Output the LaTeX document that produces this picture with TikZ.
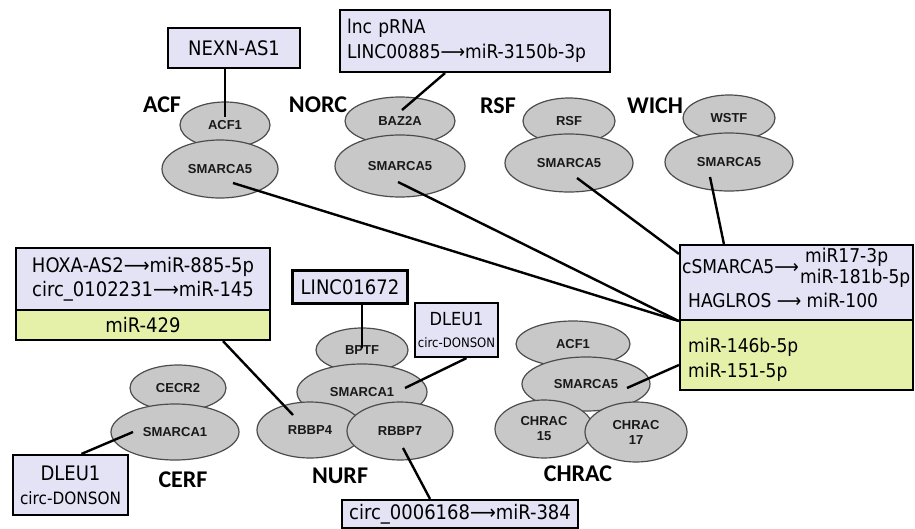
\documentclass[tikz,border=0pt]{standalone}
\usepackage{fontspec}
\setmainfont{DejaVu Sans Condensed}
\newfontfamily\lblfont{Liberation Sans}
\newfontfamily\cplxfont{Carlito}
\usetikzlibrary{shapes.geometric}
\definecolor{boxlila}{RGB}{228,226,245}
\definecolor{boxlime}{RGB}{229,241,168}
\definecolor{protgray}{RGB}{200,200,200}
\newcommand{\lowlbl}[1]{\raisebox{-7pt}{#1}}
\begin{document}
\begin{tikzpicture}[x=1pt, y=-1pt,
    prot/.style={ellipse, draw=black!70, line width=1.2pt, fill=protgray, inner sep=0pt,
                 font=\lblfont\bfseries\fontsize{13}{15}\selectfont, text=black!90, align=center},
    rbox/.style={draw, line width=2.2pt, fill=boxlila, inner sep=0pt, align=center,
                 font=\fontsize{20}{24}\selectfont},
    gbox/.style={rbox, fill=boxlime},
    cplx/.style={font=\cplxfont\bfseries\fontsize{24}{26}\selectfont},
    txt/.style={font=\fontsize{19}{24}\selectfont, inner sep=0pt, anchor=west},
    link/.style={line width=2.4pt}]
  \useasboundingbox (0,0) rectangle (915,529);

  \node[cplx] (acf)  at (162,105) {ACF};
  \node[cplx] (norc) at (318,105) {NORC};
  \node[cplx] (rsfc) at (498,106) {RSF};
  \node[cplx] (wich) at (655,106) {WICH};
  \node[cplx] (cerf) at (183,480) {CERF};
  \node[cplx] (nurf) at (340,476) {NURF};
  \node[cplx] (chrac) at (578,474) {CHRAC};

  \node[prot, minimum width=90pt,  minimum height=46pt] (acf1)  at (225,125) {\lowlbl{ACF1}};
  \node[prot, minimum width=116pt, minimum height=58pt] (acfS)  at (220,169) {SMARCA5};
  \node[prot, minimum width=110pt, minimum height=48pt] (baz2a) at (400,121) {\lowlbl{BAZ2A}};
  \node[prot, minimum width=130pt, minimum height=62pt] (norcS) at (400,166) {SMARCA5};
  \node[prot, minimum width=92pt,  minimum height=46pt] (rsf)   at (569,121) {\lowlbl{RSF}};
  \node[prot, minimum width=128pt, minimum height=58pt] (rsfS)  at (569,163) {SMARCA5};
  \node[prot, minimum width=92pt,  minimum height=46pt] (wstf)  at (729,118) {\lowlbl{WSTF}};
  \node[prot, minimum width=128pt, minimum height=58pt] (wichS) at (729,162) {SMARCA5};

  \node[prot, minimum width=96pt,  minimum height=46pt] (cecr2) at (178,388) {\lowlbl{CECR2}};
  \node[prot, minimum width=128pt, minimum height=56pt] (cerfS) at (175,432) {SMARCA1};

  \node[prot, minimum width=92pt,  minimum height=44pt] (bptf)  at (362,350) {\lowlbl{BPTF}};
  \node[prot, minimum width=130pt, minimum height=56pt] (nurfS) at (362,392) {\raisebox{-3pt}{SMARCA1}};
  \node[prot, minimum width=106pt, minimum height=56pt] (rbbp4) at (310,430) {RBBP4};
  \node[prot, minimum width=106pt, minimum height=58pt] (rbbp7) at (400,431) {RBBP7};

  \node[prot, minimum width=114pt, minimum height=46pt] (chacf1)  at (573,344) {\lowlbl{ACF1}};
  \node[prot, minimum width=128pt, minimum height=54pt] (chracS)  at (586,384) {\raisebox{-4pt}{SMARCA5}};
  \node[prot, minimum width=98pt,  minimum height=58pt] (chrac15) at (544,429) {CHRAC\\15};
  \node[prot, minimum width=102pt, minimum height=60pt] (chrac17) at (636,432) {CHRAC\\17};

  \node[rbox, minimum width=132pt, minimum height=40pt] (nexn) at (234,48) {NEXN-AS1};
  \node[rbox, minimum width=270pt, minimum height=62pt, align=left, text width=256pt,
        font=\fontsize{19}{25}\selectfont] (lnc) at (475,41)
        {lnc pRNA\\LINC00885⟶miR-3150b-3p};
  \node[rbox, minimum width=254pt, minimum height=62pt] (ltop) at (143,279)
        {HOXA-AS2⟶miR-885-5p\\circ\_0102231⟶miR-145};
  \node[gbox, minimum width=254pt, minimum height=30pt] (lbot) at (143,325) {miR-429};
  \node[rbox, minimum width=233pt, minimum height=75pt] (rtop) at (796.5,282.5) {};
  \node[gbox, minimum width=233pt, minimum height=70pt] (rbot) at (796.5,355) {};
  \node[rbox, minimum width=115pt, minimum height=33pt] (linc) at (350,287) {LINC01672};
  \node[rbox, minimum width=83pt, minimum height=54pt, font=\fontsize{18}{22}\selectfont] (dleuN) at (456.5,330)
        {DLEU1\\{\fontsize{13}{15}\selectfont circ-DONSON}};
  \node[rbox, minimum width=115pt, minimum height=60pt] (dleuC) at (70.5,485)
        {DLEU1\\{\fontsize{17}{20}\selectfont circ-DONSON}};
  \node[rbox, minimum width=236pt, minimum height=28pt] (circ) at (460,514) {circ\_0006168⟶miR-384};

  \node[txt] (csm)  at (682,267) {cSMARCA5⟶};
  \node[txt] (m17)  at (805,257) {miR17-3p};
  \node[txt] (m181) at (800,278) {miR-181b-5p};
  \node[txt] (hag)  at (688,300) {HAGLROS ⟶ miR-100};
  \node[txt] (m146) at (688,347) {miR-146b-5p};
  \node[txt] (m151) at (688,372) {miR-151-5p};

  \draw[link] ([shift={(-9,0)}]nexn.south) -- ([shift={(0,-8)}]acf1.center);
  \draw[link] ([shift={(-30,0)}]lnc.south) -- ([shift={(2,-11)}]baz2a.center);
  \draw[link] ([shift={(13,14)}]acfS.center) -- (rtop.south west);
  \draw[link] ([shift={(-2,16)}]norcS.center) -- (rtop.south west);
  \draw[link] ([shift={(8,15)}]rsfS.center) -- ([shift={(0,10)}]rtop.north west);
  \draw[link] ([shift={(-19,15)}]wichS.center) -- ([shift={(45,0)}]rtop.north west);
  \draw[link] ([shift={(41,4)}]chracS.center) -- ([shift={(0,10)}]rbot.west);
  \draw[link] ([shift={(80,0)}]lbot.south) -- ([shift={(-17,-15)}]rbbp4.center);
  \draw[link] ([shift={(12,0)}]linc.south) -- ([shift={(0,-2)}]bptf.center);
  \draw[link] ([shift={(10,0)}]dleuN.south) -- ([shift={(43,-4)}]nurfS.center);
  \draw[link] ([shift={(3,17)}]rbbp7.center) -- ([shift={(-30,0)}]circ.north);
  \draw[link] ([shift={(-42,0)}]cerfS.center) -- ([shift={(11,0)}]dleuC.north);
\end{tikzpicture}
\end{document}
